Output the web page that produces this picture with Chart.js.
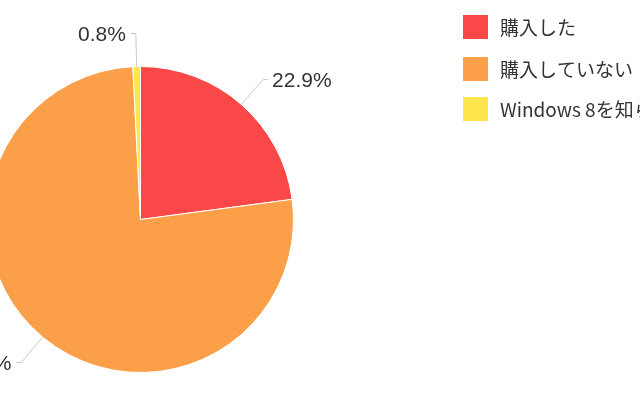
<!DOCTYPE html>
<html>
<head>
<meta charset="utf-8">
<script src="https://cdn.jsdelivr.net/npm/chart.js@4/dist/chart.umd.min.js"></script>
<style>
html,body{margin:0;padding:0;background:#fff;overflow:hidden;width:640px;height:400px;}
#wrap{position:absolute;left:-40px;top:0;width:720px;height:400px;}
</style>
</head>
<body>
<div id="wrap"><canvas id="c" width="720" height="400"></canvas></div>
<script>
const categories = ['購入した', '購入していない', 'Windows 8を知らない'];
const values = [22.9, 76.3, 0.8];
const valueLabels = ['22.9%', '76.3%', '0.8%'];
const colors = ['#FA4747', '#FBA048', '#FDE64E'];

const OFFSET_X = 40; // canvas is shifted left by this many px

const outerLabels = {
  id: 'outerLabels',
  afterDatasetsDraw(chart) {
    const ctx = chart.ctx;
    const meta = chart.getDatasetMeta(0);
    ctx.save();
    meta.data.forEach((arc, i) => {
      const p = arc.getProps(['x','y','startAngle','endAngle','outerRadius'], true);
      const mid = (p.startAngle + p.endAngle) / 2;
      const r = p.outerRadius;
      const x0 = p.x + Math.cos(mid) * r;
      const y0 = p.y + Math.sin(mid) * r;
      const x1 = p.x + Math.cos(mid) * (r + 33);
      const y1 = p.y + Math.sin(mid) * (r + 33);
      const right = x1 >= p.x;
      const x2 = x1 + (right ? 5 : -5);
      ctx.strokeStyle = '#c8c8c8';
      ctx.lineWidth = 1;
      ctx.beginPath();
      ctx.moveTo(x0, y0);
      ctx.lineTo(x1, y1);
      ctx.lineTo(x2, y1);
      ctx.stroke();
      ctx.fillStyle = '#333';
      ctx.font = '21px "Liberation Sans", Arial, sans-serif';
      ctx.textBaseline = 'middle';
      ctx.textAlign = right ? 'left' : 'right';
      ctx.fillText(valueLabels[i], x2 + (right ? 4 : -5), y1 + 2);
    });
    ctx.restore();
  }
};

const sideLegend = {
  id: 'sideLegend',
  afterDraw(chart) {
    const ctx = chart.ctx;
    ctx.save();
    const rowY = [27, 69, 109];
    chart.data.labels.forEach((lab, i) => {
      const cy = rowY[i];
      ctx.fillStyle = chart.data.datasets[0].backgroundColor[i];
      ctx.fillRect(463 + OFFSET_X, cy - 12, 25, 24);
      ctx.fillStyle = '#333';
      ctx.font = '19px "Noto Sans CJK JP", sans-serif';
      ctx.textBaseline = 'middle';
      ctx.textAlign = 'left';
      ctx.fillText(lab, 500 + OFFSET_X, cy + 1);
    });
    ctx.restore();
  }
};

new Chart(document.getElementById('c'), {
  type: 'pie',
  data: {
    labels: categories,
    datasets: [{
      data: values,
      backgroundColor: colors,
      borderColor: '#ffffff',
      borderWidth: 1
    }]
  },
  options: {
    responsive: false,
    animation: false,
    devicePixelRatio: 1,
    layout: { padding: { left: 27, right: 386, top: 66, bottom: 27 } },
    plugins: {
      legend: { display: false },
      tooltip: { enabled: false }
    }
  },
  plugins: [outerLabels, sideLegend]
});
</script>
</body>
</html>
